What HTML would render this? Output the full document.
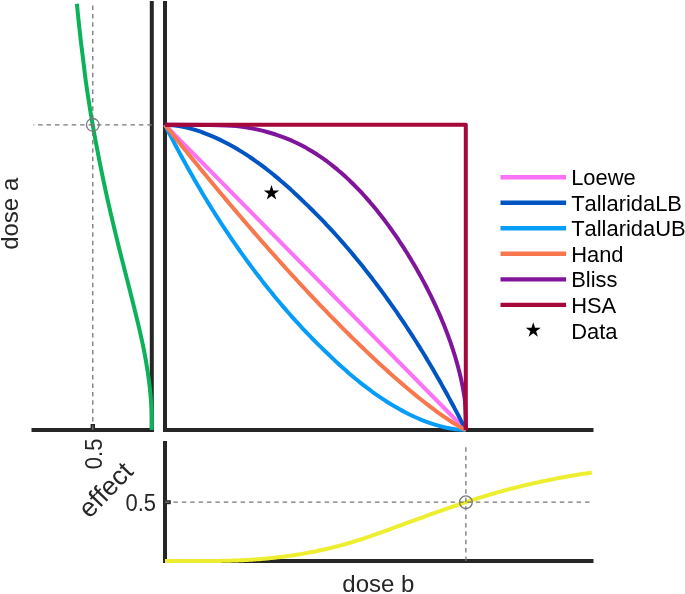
<!DOCTYPE html>
<html><head><meta charset="utf-8"><style>
html,body{margin:0;padding:0;background:#fff;}
body{width:685px;height:594px;overflow:hidden;}
svg{display:block;will-change:transform;}
text{font-family:"Liberation Sans",sans-serif;font-kerning:none;}
.lg{font-size:21.9px;fill:#000;}
.tk{font-size:22.8px;fill:#262626;}
.lb{font-size:24px;fill:#262626;}
</style></head><body>
<svg width="685" height="594" viewBox="0 0 685 594">
<g stroke="#262626" stroke-width="4" fill="none" stroke-linecap="butt">
<path d="M151.8,1 L151.8,432"/>
<path d="M31.5,430 L153.8,430"/>
<path d="M92.8,428 L92.8,424" stroke-width="4.4"/>
<path d="M165,1 L165,432"/>
<path d="M163,430 L593.5,430"/>
<path d="M165,441 L165,563"/>
<path d="M163,561 L593.5,561"/>
<path d="M167,502.2 L170.8,502.2"/>
</g>
<g fill="none" stroke-width="4" stroke-linejoin="round" stroke-linecap="butt">
<path d="M151.70,430.00 L151.74,428.57 L151.77,427.15 L151.79,425.72 L151.80,424.30 L151.81,422.87 L151.81,421.45 L151.81,420.02 L151.80,418.59 L151.78,417.17 L151.75,415.74 L151.72,414.32 L151.69,412.89 L151.64,411.47 L151.60,410.04 L151.52,408.61 L151.44,407.19 L151.35,405.76 L151.25,404.34 L151.15,402.91 L151.05,401.49 L150.94,400.06 L150.82,398.63 L150.70,397.21 L150.58,395.78 L150.45,394.36 L150.31,392.93 L150.17,391.51 L150.02,390.08 L149.87,388.65 L149.72,387.23 L149.56,385.80 L149.40,384.38 L149.23,382.95 L149.05,381.53 L148.88,380.10 L148.68,378.67 L148.48,377.25 L148.28,375.82 L148.07,374.40 L147.86,372.97 L147.64,371.54 L147.42,370.12 L147.20,368.69 L146.97,367.27 L146.74,365.84 L146.50,364.42 L146.26,362.99 L146.02,361.56 L145.78,360.14 L145.53,358.71 L145.27,357.29 L145.02,355.86 L144.76,354.44 L144.50,353.01 L144.23,351.58 L143.97,350.16 L143.67,348.73 L143.37,347.31 L143.07,345.88 L142.77,344.46 L142.46,343.03 L142.15,341.60 L141.84,340.18 L141.53,338.75 L141.21,337.33 L140.89,335.90 L140.57,334.48 L140.25,333.05 L139.92,331.62 L139.59,330.20 L139.26,328.77 L138.93,327.35 L138.60,325.92 L138.26,324.50 L137.92,323.07 L137.58,321.64 L137.24,320.22 L136.90,318.79 L136.56,317.37 L136.21,315.94 L135.86,314.52 L135.51,313.09 L135.16,311.66 L134.81,310.24 L134.46,308.81 L134.10,307.39 L133.75,305.96 L133.39,304.54 L133.03,303.11 L132.68,301.68 L132.32,300.26 L131.96,298.83 L131.60,297.41 L131.25,295.98 L130.89,294.56 L130.53,293.13 L130.17,291.70 L129.81,290.28 L129.45,288.85 L129.09,287.43 L128.73,286.00 L128.37,284.58 L128.01,283.15 L127.65,281.72 L127.28,280.30 L126.92,278.87 L126.56,277.45 L126.19,276.02 L125.83,274.59 L125.47,273.17 L125.10,271.74 L124.74,270.32 L124.37,268.89 L124.01,267.47 L123.64,266.04 L123.28,264.61 L122.91,263.19 L122.55,261.76 L122.19,260.34 L121.82,258.91 L121.46,257.49 L121.10,256.06 L120.73,254.63 L120.37,253.21 L120.01,251.78 L119.65,250.36 L119.29,248.93 L118.94,247.51 L118.59,246.08 L118.24,244.65 L117.89,243.23 L117.55,241.80 L117.20,240.38 L116.85,238.95 L116.51,237.53 L116.16,236.10 L115.81,234.67 L115.47,233.25 L115.13,231.82 L114.78,230.40 L114.44,228.97 L114.10,227.55 L113.76,226.12 L113.42,224.69 L113.08,223.27 L112.74,221.84 L112.40,220.42 L112.06,218.99 L111.73,217.57 L111.39,216.14 L111.06,214.71 L110.72,213.29 L110.39,211.86 L110.06,210.44 L109.73,209.01 L109.40,207.59 L109.07,206.16 L108.74,204.73 L108.41,203.31 L108.09,201.88 L107.76,200.46 L107.44,199.03 L107.13,197.61 L106.82,196.18 L106.51,194.75 L106.20,193.33 L105.89,191.90 L105.58,190.48 L105.27,189.05 L104.97,187.63 L104.66,186.20 L104.36,184.77 L104.06,183.35 L103.76,181.92 L103.46,180.50 L103.16,179.07 L102.86,177.65 L102.56,176.22 L102.27,174.79 L101.97,173.37 L101.68,171.94 L101.39,170.52 L101.10,169.09 L100.81,167.66 L100.52,166.24 L100.23,164.81 L99.95,163.39 L99.66,161.96 L99.38,160.54 L99.10,159.11 L98.82,157.68 L98.54,156.26 L98.26,154.83 L97.98,153.41 L97.70,151.98 L97.43,150.56 L97.15,149.13 L96.88,147.70 L96.61,146.28 L96.34,144.85 L96.07,143.43 L95.80,142.00 L95.54,140.58 L95.27,139.15 L95.01,137.72 L94.75,136.30 L94.49,134.87 L94.23,133.45 L93.97,132.02 L93.72,130.60 L93.46,129.17 L93.21,127.74 L92.96,126.32 L92.71,124.89 L92.46,123.47 L92.21,122.04 L91.96,120.62 L91.72,119.19 L91.47,117.76 L91.23,116.34 L90.99,114.91 L90.75,113.49 L90.51,112.06 L90.27,110.64 L90.03,109.21 L89.81,107.78 L89.58,106.36 L89.36,104.93 L89.13,103.51 L88.91,102.08 L88.69,100.66 L88.47,99.23 L88.25,97.80 L88.03,96.38 L87.82,94.95 L87.60,93.53 L87.39,92.10 L87.18,90.68 L86.96,89.25 L86.75,87.82 L86.54,86.40 L86.34,84.97 L86.13,83.55 L85.92,82.12 L85.72,80.70 L85.53,79.27 L85.35,77.84 L85.17,76.42 L84.99,74.99 L84.82,73.57 L84.64,72.14 L84.47,70.71 L84.30,69.29 L84.13,67.86 L83.96,66.44 L83.79,65.01 L83.62,63.59 L83.45,62.16 L83.29,60.73 L83.11,59.31 L82.93,57.88 L82.74,56.46 L82.56,55.03 L82.38,53.61 L82.20,52.18 L82.02,50.75 L81.84,49.33 L81.66,47.90 L81.49,46.48 L81.31,45.05 L81.14,43.63 L80.96,42.20 L80.79,40.77 L80.62,39.35 L80.46,37.92 L80.30,36.50 L80.14,35.07 L79.99,33.65 L79.83,32.22 L79.67,30.79 L79.52,29.37 L79.36,27.94 L79.21,26.52 L79.06,25.09 L78.91,23.67 L78.76,22.24 L78.61,20.81 L78.46,19.39 L78.31,17.96 L78.16,16.54 L78.02,15.11 L77.87,13.69 L77.73,12.26 L77.59,10.83 L77.45,9.41 L77.31,7.98 L77.16,6.56 L77.03,5.13 L76.89,3.71" stroke="#0BB258"/>
<path d="M165.00,561.00 L166.43,561.01 L167.85,561.02 L169.28,561.02 L170.71,561.03 L172.14,561.04 L173.56,561.04 L174.99,561.05 L176.42,561.06 L177.85,561.07 L179.27,561.07 L180.70,561.08 L182.13,561.08 L183.56,561.09 L184.98,561.09 L186.41,561.10 L187.84,561.10 L189.27,561.10 L190.69,561.11 L192.12,561.11 L193.55,561.11 L194.98,561.11 L196.40,561.11 L197.83,561.11 L199.26,561.10 L200.69,561.10 L202.11,561.09 L203.54,561.09 L204.97,561.08 L206.40,561.07 L207.82,561.06 L209.25,561.05 L210.68,561.04 L212.11,561.02 L213.53,561.00 L214.96,560.98 L216.39,560.96 L217.81,560.94 L219.24,560.92 L220.67,560.89 L222.10,560.86 L223.52,560.83 L224.95,560.80 L226.38,560.77 L227.81,560.73 L229.23,560.69 L230.66,560.65 L232.09,560.60 L233.52,560.56 L234.94,560.51 L236.37,560.45 L237.80,560.40 L239.23,560.34 L240.65,560.28 L242.08,560.21 L243.51,560.14 L244.94,560.07 L246.36,559.99 L247.79,559.91 L249.22,559.83 L250.65,559.74 L252.07,559.65 L253.50,559.56 L254.93,559.46 L256.36,559.36 L257.78,559.25 L259.21,559.15 L260.64,559.03 L262.06,558.92 L263.49,558.80 L264.92,558.67 L266.35,558.54 L267.77,558.41 L269.20,558.27 L270.63,558.13 L272.06,557.98 L273.48,557.83 L274.91,557.68 L276.34,557.52 L277.77,557.35 L279.19,557.19 L280.62,557.01 L282.05,556.83 L283.48,556.65 L284.90,556.46 L286.33,556.27 L287.76,556.07 L289.19,555.87 L290.61,555.67 L292.04,555.46 L293.47,555.25 L294.90,555.03 L296.32,554.81 L297.75,554.59 L299.18,554.35 L300.61,554.12 L302.03,553.88 L303.46,553.63 L304.89,553.38 L306.32,553.12 L307.74,552.86 L309.17,552.59 L310.60,552.32 L312.02,552.04 L313.45,551.76 L314.88,551.47 L316.31,551.18 L317.73,550.88 L319.16,550.58 L320.59,550.27 L322.02,549.96 L323.44,549.64 L324.87,549.32 L326.30,548.99 L327.73,548.66 L329.15,548.32 L330.58,547.98 L332.01,547.63 L333.44,547.28 L334.86,546.92 L336.29,546.56 L337.72,546.20 L339.15,545.83 L340.57,545.44 L342.00,545.05 L343.43,544.65 L344.86,544.24 L346.28,543.83 L347.71,543.42 L349.14,543.00 L350.57,542.58 L351.99,542.15 L353.42,541.72 L354.85,541.29 L356.27,540.85 L357.70,540.41 L359.13,539.96 L360.56,539.52 L361.98,539.06 L363.41,538.61 L364.84,538.15 L366.27,537.67 L367.69,537.18 L369.12,536.69 L370.55,536.19 L371.98,535.69 L373.40,535.19 L374.83,534.69 L376.26,534.19 L377.69,533.68 L379.11,533.17 L380.54,532.66 L381.97,532.14 L383.40,531.62 L384.82,531.10 L386.25,530.58 L387.68,530.06 L389.11,529.53 L390.53,529.01 L391.96,528.48 L393.39,527.95 L394.82,527.42 L396.24,526.89 L397.67,526.35 L399.10,525.82 L400.53,525.29 L401.95,524.78 L403.38,524.26 L404.81,523.75 L406.23,523.23 L407.66,522.72 L409.09,522.20 L410.52,521.68 L411.94,521.16 L413.37,520.65 L414.80,520.13 L416.23,519.61 L417.65,519.09 L419.08,518.58 L420.51,518.06 L421.94,517.54 L423.36,517.03 L424.79,516.51 L426.22,515.99 L427.65,515.48 L429.07,514.97 L430.50,514.45 L431.93,513.94 L433.36,513.43 L434.78,512.92 L436.21,512.41 L437.64,511.90 L439.07,511.40 L440.49,510.89 L441.92,510.39 L443.35,509.88 L444.78,509.38 L446.20,508.88 L447.63,508.38 L449.06,507.89 L450.48,507.39 L451.91,506.90 L453.34,506.41 L454.77,505.92 L456.19,505.43 L457.62,504.94 L459.05,504.46 L460.48,503.98 L461.90,503.50 L463.33,503.02 L464.76,502.55 L466.19,502.07 L467.61,501.61 L469.04,501.14 L470.47,500.68 L471.90,500.22 L473.32,499.76 L474.75,499.31 L476.18,498.85 L477.61,498.40 L479.03,497.95 L480.46,497.51 L481.89,497.07 L483.32,496.63 L484.74,496.19 L486.17,495.75 L487.60,495.32 L489.03,494.89 L490.45,494.46 L491.88,494.04 L493.31,493.62 L494.74,493.20 L496.16,492.78 L497.59,492.37 L499.02,491.96 L500.44,491.56 L501.87,491.17 L503.30,490.78 L504.73,490.40 L506.15,490.02 L507.58,489.64 L509.01,489.27 L510.44,488.90 L511.86,488.53 L513.29,488.16 L514.72,487.80 L516.15,487.44 L517.57,487.08 L519.00,486.73 L520.43,486.38 L521.86,486.03 L523.28,485.68 L524.71,485.34 L526.14,485.01 L527.57,484.67 L528.99,484.35 L530.42,484.02 L531.85,483.70 L533.28,483.38 L534.70,483.06 L536.13,482.74 L537.56,482.43 L538.99,482.12 L540.41,481.82 L541.84,481.51 L543.27,481.21 L544.69,480.91 L546.12,480.62 L547.55,480.32 L548.98,480.03 L550.40,479.75 L551.83,479.46 L553.26,479.17 L554.69,478.89 L556.11,478.61 L557.54,478.33 L558.97,478.05 L560.40,477.78 L561.82,477.51 L563.25,477.24 L564.68,476.98 L566.11,476.72 L567.53,476.47 L568.96,476.21 L570.39,475.97 L571.82,475.72 L573.24,475.48 L574.67,475.24 L576.10,475.00 L577.53,474.76 L578.95,474.53 L580.38,474.30 L581.81,474.07 L583.24,473.84 L584.66,473.62 L586.09,473.40 L587.52,473.18 L588.95,472.96 L590.37,472.75 L591.80,472.53" stroke="#EEEE30"/>
<path d="M165.0,124.85000000000002 L465.8,430.0" stroke="#FB72F6"/>
<path d="M465.80,430.00 L465.42,429.24 L465.03,428.47 L464.64,427.71 L464.26,426.94 L463.87,426.18 L463.48,425.41 L463.09,424.65 L462.70,423.88 L462.31,423.12 L461.92,422.35 L461.53,421.59 L461.14,420.82 L460.74,420.06 L460.35,419.29 L459.95,418.53 L459.56,417.76 L459.16,417.00 L458.76,416.23 L458.37,415.47 L457.97,414.70 L457.57,413.94 L457.17,413.17 L456.77,412.41 L456.37,411.65 L455.96,410.88 L455.56,410.12 L455.16,409.35 L454.75,408.59 L454.35,407.82 L453.94,407.06 L453.54,406.29 L453.13,405.53 L452.72,404.76 L452.31,404.00 L451.90,403.23 L451.49,402.47 L451.08,401.70 L450.67,400.94 L450.26,400.17 L449.84,399.41 L449.43,398.64 L449.01,397.88 L448.60,397.11 L448.18,396.35 L447.76,395.58 L447.34,394.82 L446.93,394.06 L446.51,393.29 L446.08,392.53 L445.66,391.76 L445.24,391.00 L444.82,390.23 L444.39,389.47 L443.97,388.70 L443.54,387.94 L443.12,387.17 L442.69,386.41 L442.26,385.64 L441.83,384.88 L441.40,384.11 L440.97,383.35 L440.54,382.58 L440.11,381.82 L439.68,381.05 L439.24,380.29 L438.81,379.52 L438.37,378.76 L437.94,377.99 L437.50,377.23 L437.06,376.46 L436.62,375.70 L436.18,374.94 L435.74,374.17 L435.30,373.41 L434.86,372.64 L434.42,371.88 L433.97,371.11 L433.53,370.35 L433.08,369.58 L432.64,368.82 L432.19,368.05 L431.74,367.29 L431.29,366.52 L430.84,365.76 L430.39,364.99 L429.94,364.23 L429.49,363.46 L429.03,362.70 L428.58,361.93 L428.12,361.17 L427.67,360.40 L427.21,359.64 L426.75,358.87 L426.29,358.11 L425.83,357.35 L425.37,356.58 L424.91,355.82 L424.45,355.05 L423.98,354.29 L423.52,353.52 L423.05,352.76 L422.58,351.99 L422.11,351.23 L421.64,350.46 L421.16,349.70 L420.69,348.93 L420.21,348.17 L419.74,347.40 L419.26,346.64 L418.78,345.87 L418.31,345.11 L417.83,344.34 L417.34,343.58 L416.86,342.81 L416.38,342.05 L415.90,341.28 L415.41,340.52 L414.92,339.76 L414.44,338.99 L413.95,338.23 L413.46,337.46 L412.97,336.70 L412.48,335.93 L411.98,335.17 L411.49,334.40 L411.00,333.64 L410.50,332.87 L410.00,332.11 L409.51,331.34 L409.01,330.58 L408.51,329.81 L408.00,329.05 L407.50,328.28 L407.00,327.52 L406.49,326.75 L405.99,325.99 L405.48,325.22 L404.97,324.46 L404.46,323.69 L403.95,322.93 L403.44,322.17 L402.93,321.40 L402.41,320.64 L401.90,319.87 L401.38,319.11 L400.86,318.34 L400.35,317.58 L399.83,316.81 L399.30,316.05 L398.78,315.28 L398.26,314.52 L397.73,313.75 L397.21,312.99 L396.68,312.22 L396.15,311.46 L395.62,310.69 L395.09,309.93 L394.56,309.16 L394.03,308.40 L393.49,307.63 L392.96,306.87 L392.42,306.10 L391.88,305.34 L391.34,304.57 L390.80,303.81 L390.26,303.05 L389.71,302.28 L389.17,301.52 L388.62,300.75 L388.08,299.99 L387.53,299.22 L386.98,298.46 L386.43,297.69 L385.87,296.93 L385.32,296.16 L384.76,295.40 L384.21,294.63 L383.65,293.87 L383.09,293.10 L382.53,292.34 L381.97,291.57 L381.40,290.81 L380.84,290.04 L380.27,289.28 L379.70,288.51 L379.14,287.75 L378.56,286.98 L377.99,286.22 L377.42,285.46 L376.84,284.69 L376.27,283.93 L375.69,283.16 L375.11,282.40 L374.53,281.63 L373.95,280.87 L373.36,280.10 L372.78,279.34 L372.19,278.57 L371.60,277.81 L371.01,277.04 L370.42,276.28 L369.83,275.51 L369.24,274.75 L368.65,273.98 L368.05,273.22 L367.45,272.45 L366.85,271.69 L366.25,270.92 L365.65,270.16 L365.05,269.39 L364.44,268.63 L363.83,267.87 L363.22,267.10 L362.61,266.34 L362.00,265.57 L361.39,264.81 L360.77,264.04 L360.16,263.28 L359.54,262.51 L358.92,261.75 L358.29,260.98 L357.67,260.22 L357.04,259.45 L356.42,258.69 L355.79,257.92 L355.16,257.16 L354.52,256.39 L353.89,255.63 L353.25,254.86 L352.61,254.10 L351.97,253.33 L351.33,252.57 L350.69,251.80 L350.04,251.04 L349.40,250.28 L348.75,249.51 L348.09,248.75 L347.44,247.98 L346.79,247.22 L346.13,246.45 L345.47,245.69 L344.81,244.92 L344.15,244.16 L343.48,243.39 L342.81,242.63 L342.14,241.86 L341.47,241.10 L340.80,240.33 L340.12,239.57 L339.45,238.80 L338.77,238.04 L338.09,237.27 L337.40,236.51 L336.72,235.74 L336.03,234.98 L335.34,234.21 L334.64,233.45 L333.95,232.68 L333.25,231.92 L332.55,231.16 L331.85,230.39 L331.15,229.63 L330.44,228.86 L329.73,228.10 L329.02,227.33 L328.30,226.57 L327.59,225.80 L326.87,225.04 L326.15,224.27 L325.42,223.51 L324.70,222.74 L323.97,221.98 L323.24,221.21 L322.50,220.45 L321.77,219.68 L321.03,218.92 L320.29,218.15 L319.54,217.39 L318.79,216.62 L318.04,215.86 L317.29,215.09 L316.53,214.33 L315.78,213.57 L315.01,212.80 L314.25,212.04 L313.48,211.27 L312.71,210.51 L311.94,209.74 L311.16,208.98 L310.38,208.21 L309.60,207.45 L308.81,206.68 L308.02,205.92 L307.23,205.15 L306.43,204.39 L305.63,203.62 L304.83,202.86 L304.03,202.09 L303.22,201.33 L302.43,200.56 L301.64,199.80 L300.85,199.03 L300.06,198.27 L299.27,197.50 L298.47,196.74 L297.67,195.98 L296.86,195.21 L296.05,194.45 L295.24,193.68 L294.42,192.92 L293.60,192.15 L292.77,191.39 L291.94,190.62 L291.11,189.86 L290.27,189.09 L289.43,188.33 L288.58,187.56 L287.73,186.80 L286.87,186.03 L286.01,185.27 L285.14,184.50 L284.27,183.74 L283.40,182.97 L282.51,182.21 L281.63,181.44 L280.74,180.68 L279.84,179.91 L278.94,179.15 L278.03,178.39 L277.12,177.62 L276.20,176.86 L275.27,176.09 L274.34,175.33 L273.40,174.56 L272.46,173.80 L271.51,173.03 L270.55,172.27 L269.59,171.50 L268.62,170.74 L267.64,169.97 L266.66,169.21 L265.67,168.44 L264.67,167.68 L263.66,166.91 L262.64,166.15 L261.62,165.38 L260.59,164.62 L259.55,163.85 L258.50,163.09 L257.44,162.32 L256.37,161.56 L255.29,160.79 L254.20,160.03 L253.10,159.27 L251.99,158.50 L250.87,157.74 L249.74,156.97 L248.60,156.21 L247.44,155.44 L246.27,154.68 L245.09,153.91 L243.89,153.15 L242.69,152.38 L241.46,151.62 L240.22,150.85 L238.97,150.09 L237.69,149.32 L236.40,148.56 L235.10,147.79 L233.77,147.03 L232.42,146.26 L231.05,145.50 L229.66,144.73 L228.25,143.97 L226.81,143.20 L225.34,142.44 L223.85,141.68 L222.33,140.91 L220.77,140.15 L219.18,139.38 L217.56,138.62 L215.89,137.85 L214.19,137.09 L212.43,136.32 L210.62,135.56 L208.76,134.79 L206.83,134.03 L204.83,133.26 L202.75,132.50 L200.58,131.73 L198.29,130.97 L195.88,130.20 L193.32,129.44 L190.55,128.67 L187.54,127.91 L184.17,127.14 L180.25,126.38 L175.33,125.61 L165.00,124.85" stroke="#0055C3"/>
<path d="M465.80,430.00 L455.47,429.24 L450.55,428.47 L446.63,427.71 L443.26,426.94 L440.25,426.18 L437.48,425.41 L434.92,424.65 L432.51,423.88 L430.22,423.12 L428.05,422.35 L425.97,421.59 L423.97,420.82 L422.04,420.06 L420.18,419.29 L418.37,418.53 L416.61,417.76 L414.91,417.00 L413.24,416.23 L411.62,415.47 L410.03,414.70 L408.47,413.94 L406.95,413.17 L405.46,412.41 L403.99,411.65 L402.55,410.88 L401.14,410.12 L399.75,409.35 L398.38,408.59 L397.03,407.82 L395.70,407.06 L394.40,406.29 L393.11,405.53 L391.83,404.76 L390.58,404.00 L389.34,403.23 L388.11,402.47 L386.91,401.70 L385.71,400.94 L384.53,400.17 L383.36,399.41 L382.20,398.64 L381.06,397.88 L379.93,397.11 L378.81,396.35 L377.70,395.58 L376.60,394.82 L375.51,394.06 L374.43,393.29 L373.36,392.53 L372.30,391.76 L371.25,391.00 L370.21,390.23 L369.18,389.47 L368.16,388.70 L367.14,387.94 L366.13,387.17 L365.13,386.41 L364.14,385.64 L363.16,384.88 L362.18,384.11 L361.21,383.35 L360.25,382.58 L359.29,381.82 L358.34,381.05 L357.40,380.29 L356.46,379.52 L355.53,378.76 L354.60,377.99 L353.68,377.23 L352.77,376.46 L351.86,375.70 L350.96,374.94 L350.06,374.17 L349.17,373.41 L348.29,372.64 L347.40,371.88 L346.53,371.11 L345.66,370.35 L344.79,369.58 L343.93,368.82 L343.07,368.05 L342.22,367.29 L341.37,366.52 L340.53,365.76 L339.69,364.99 L338.86,364.23 L338.03,363.46 L337.20,362.70 L336.38,361.93 L335.56,361.17 L334.75,360.40 L333.94,359.64 L333.13,358.87 L332.33,358.11 L331.53,357.35 L330.74,356.58 L329.95,355.82 L329.16,355.05 L328.37,354.29 L327.58,353.52 L326.77,352.76 L325.97,351.99 L325.17,351.23 L324.37,350.46 L323.57,349.70 L322.78,348.93 L321.99,348.17 L321.20,347.40 L320.42,346.64 L319.64,345.87 L318.86,345.11 L318.09,344.34 L317.32,343.58 L316.55,342.81 L315.79,342.05 L315.02,341.28 L314.27,340.52 L313.51,339.76 L312.76,338.99 L312.01,338.23 L311.26,337.46 L310.51,336.70 L309.77,335.93 L309.03,335.17 L308.30,334.40 L307.56,333.64 L306.83,332.87 L306.10,332.11 L305.38,331.34 L304.65,330.58 L303.93,329.81 L303.21,329.05 L302.50,328.28 L301.78,327.52 L301.07,326.75 L300.36,325.99 L299.65,325.22 L298.95,324.46 L298.25,323.69 L297.55,322.93 L296.85,322.17 L296.16,321.40 L295.46,320.64 L294.77,319.87 L294.08,319.11 L293.40,318.34 L292.71,317.58 L292.03,316.81 L291.35,316.05 L290.68,315.28 L290.00,314.52 L289.33,313.75 L288.66,312.99 L287.99,312.22 L287.32,311.46 L286.65,310.69 L285.99,309.93 L285.33,309.16 L284.67,308.40 L284.01,307.63 L283.36,306.87 L282.71,306.10 L282.05,305.34 L281.40,304.57 L280.76,303.81 L280.11,303.05 L279.47,302.28 L278.83,301.52 L278.19,300.75 L277.55,299.99 L276.91,299.22 L276.28,298.46 L275.64,297.69 L275.01,296.93 L274.38,296.16 L273.76,295.40 L273.13,294.63 L272.51,293.87 L271.88,293.10 L271.26,292.34 L270.64,291.57 L270.03,290.81 L269.41,290.04 L268.80,289.28 L268.19,288.51 L267.58,287.75 L266.97,286.98 L266.36,286.22 L265.75,285.46 L265.15,284.69 L264.55,283.93 L263.95,283.16 L263.35,282.40 L262.75,281.63 L262.15,280.87 L261.56,280.10 L260.97,279.34 L260.38,278.57 L259.79,277.81 L259.20,277.04 L258.61,276.28 L258.02,275.51 L257.44,274.75 L256.85,273.98 L256.27,273.22 L255.69,272.45 L255.11,271.69 L254.53,270.92 L253.96,270.16 L253.38,269.39 L252.81,268.63 L252.24,267.87 L251.66,267.10 L251.10,266.34 L250.53,265.57 L249.96,264.81 L249.40,264.04 L248.83,263.28 L248.27,262.51 L247.71,261.75 L247.15,260.98 L246.59,260.22 L246.04,259.45 L245.48,258.69 L244.93,257.92 L244.37,257.16 L243.82,256.39 L243.27,255.63 L242.72,254.86 L242.18,254.10 L241.63,253.33 L241.09,252.57 L240.54,251.80 L240.00,251.04 L239.46,250.28 L238.92,249.51 L238.38,248.75 L237.84,247.98 L237.31,247.22 L236.77,246.45 L236.24,245.69 L235.71,244.92 L235.18,244.16 L234.65,243.39 L234.12,242.63 L233.59,241.86 L233.07,241.10 L232.54,240.33 L232.02,239.57 L231.50,238.80 L230.97,238.04 L230.45,237.27 L229.94,236.51 L229.42,235.74 L228.90,234.98 L228.39,234.21 L227.87,233.45 L227.36,232.68 L226.85,231.92 L226.34,231.16 L225.83,230.39 L225.32,229.63 L224.81,228.86 L224.31,228.10 L223.80,227.33 L223.30,226.57 L222.80,225.80 L222.29,225.04 L221.79,224.27 L221.29,223.51 L220.80,222.74 L220.30,221.98 L219.80,221.21 L219.31,220.45 L218.82,219.68 L218.32,218.92 L217.83,218.15 L217.34,217.39 L216.85,216.62 L216.36,215.86 L215.88,215.09 L215.39,214.33 L214.90,213.57 L214.42,212.80 L213.94,212.04 L213.46,211.27 L212.97,210.51 L212.49,209.74 L212.02,208.98 L211.54,208.21 L211.06,207.45 L210.59,206.68 L210.11,205.92 L209.64,205.15 L209.16,204.39 L208.69,203.62 L208.22,202.86 L207.75,202.09 L207.28,201.33 L206.82,200.56 L206.35,199.80 L205.89,199.03 L205.43,198.27 L204.97,197.50 L204.51,196.74 L204.05,195.98 L203.59,195.21 L203.13,194.45 L202.68,193.68 L202.22,192.92 L201.77,192.15 L201.31,191.39 L200.86,190.62 L200.41,189.86 L199.96,189.09 L199.51,188.33 L199.06,187.56 L198.61,186.80 L198.16,186.03 L197.72,185.27 L197.27,184.50 L196.83,183.74 L196.38,182.97 L195.94,182.21 L195.50,181.44 L195.06,180.68 L194.62,179.91 L194.18,179.15 L193.74,178.39 L193.30,177.62 L192.86,176.86 L192.43,176.09 L191.99,175.33 L191.56,174.56 L191.12,173.80 L190.69,173.03 L190.26,172.27 L189.83,171.50 L189.40,170.74 L188.97,169.97 L188.54,169.21 L188.11,168.44 L187.68,167.68 L187.26,166.91 L186.83,166.15 L186.41,165.38 L185.98,164.62 L185.56,163.85 L185.14,163.09 L184.72,162.32 L184.29,161.56 L183.87,160.79 L183.46,160.03 L183.04,159.27 L182.62,158.50 L182.20,157.74 L181.79,156.97 L181.37,156.21 L180.96,155.44 L180.54,154.68 L180.13,153.91 L179.72,153.15 L179.31,152.38 L178.90,151.62 L178.49,150.85 L178.08,150.09 L177.67,149.32 L177.26,148.56 L176.86,147.79 L176.45,147.03 L176.05,146.26 L175.64,145.50 L175.24,144.73 L174.84,143.97 L174.43,143.20 L174.03,142.44 L173.63,141.68 L173.23,140.91 L172.83,140.15 L172.43,139.38 L172.04,138.62 L171.64,137.85 L171.24,137.09 L170.85,136.32 L170.45,135.56 L170.06,134.79 L169.66,134.03 L169.27,133.26 L168.88,132.50 L168.49,131.73 L168.10,130.97 L167.71,130.20 L167.32,129.44 L166.93,128.67 L166.54,127.91 L166.16,127.14 L165.77,126.38 L165.38,125.61 L165.00,124.85" stroke="#069DF9"/>
<path d="M165.00,124.85 L165.24,125.16 L167.28,127.71 L169.31,130.27 L171.36,132.83 L173.40,135.39 L175.45,137.95 L177.50,140.51 L179.56,143.07 L181.62,145.63 L183.68,148.19 L185.75,150.75 L187.82,153.31 L189.90,155.87 L191.98,158.42 L194.06,160.98 L196.15,163.54 L198.24,166.10 L200.33,168.66 L202.43,171.22 L204.54,173.78 L206.65,176.34 L208.76,178.90 L210.88,181.46 L213.00,184.02 L215.13,186.57 L217.26,189.13 L219.40,191.69 L221.54,194.25 L223.69,196.81 L225.84,199.37 L227.99,201.93 L230.15,204.49 L232.32,207.05 L234.49,209.61 L236.67,212.17 L238.85,214.73 L241.04,217.28 L243.23,219.84 L245.43,222.40 L247.63,224.96 L249.84,227.52 L252.06,230.08 L254.28,232.64 L256.51,235.20 L258.74,237.76 L260.98,240.32 L263.23,242.88 L265.48,245.44 L267.74,247.99 L270.01,250.55 L272.28,253.11 L274.56,255.67 L276.85,258.23 L279.14,260.79 L281.44,263.35 L283.75,265.91 L286.07,268.47 L288.39,271.03 L290.72,273.59 L293.06,276.15 L295.41,278.70 L297.76,281.26 L300.13,283.82 L302.50,286.38 L304.88,288.94 L307.27,291.50 L309.67,294.06 L312.08,296.62 L314.49,299.18 L316.92,301.74 L319.36,304.30 L321.81,306.86 L324.27,309.41 L326.74,311.97 L329.22,314.53 L331.71,317.09 L334.21,319.65 L336.73,322.21 L339.25,324.77 L341.79,327.33 L344.35,329.89 L346.91,332.45 L349.49,335.01 L352.09,337.57 L354.69,340.12 L357.32,342.68 L359.96,345.24 L362.61,347.80 L365.28,350.36 L367.97,352.92 L370.68,355.48 L373.40,358.04 L376.14,360.60 L378.91,363.16 L381.69,365.72 L384.50,368.28 L387.33,370.83 L390.18,373.39 L393.06,375.95 L395.96,378.51 L398.89,381.07 L401.85,383.63 L404.85,386.19 L407.87,388.75 L410.93,391.31 L414.03,393.87 L417.16,396.43 L420.34,398.98 L423.57,401.54 L426.85,404.10 L430.18,406.66 L433.58,409.22 L437.05,411.78 L440.60,414.34 L444.24,416.90 L448.00,419.46 L451.89,422.02 L455.96,424.58 L460.29,427.14 L465.12,429.69 L465.80,430.00" stroke="#F8774C"/>
<path d="M465.80,430.00 L465.80,429.49 L465.80,428.98 L465.80,428.47 L465.79,427.96 L465.79,427.45 L465.79,426.94 L465.78,426.43 L465.78,425.92 L465.77,425.41 L465.77,424.90 L465.76,424.39 L465.75,423.88 L465.75,423.37 L465.74,422.86 L465.73,422.35 L465.72,421.84 L465.71,421.33 L465.70,420.82 L465.69,420.31 L465.68,419.80 L465.67,419.29 L465.66,418.78 L465.64,418.27 L465.63,417.76 L465.62,417.25 L465.60,416.73 L465.59,416.22 L465.57,415.71 L465.56,415.20 L465.54,414.69 L465.52,414.17 L465.51,413.66 L465.49,413.15 L465.47,412.64 L465.45,412.12 L465.43,411.61 L465.41,411.10 L465.39,410.58 L465.37,410.07 L465.35,409.56 L465.33,409.04 L465.31,408.53 L465.29,408.01 L465.26,407.50 L465.24,406.98 L465.22,406.47 L465.19,405.95 L465.17,405.44 L465.14,404.92 L465.12,404.40 L465.09,403.89 L465.07,403.37 L465.04,402.85 L465.01,402.34 L464.98,401.82 L464.96,401.30 L464.93,400.78 L464.90,400.27 L464.84,399.75 L464.77,399.24 L464.69,398.73 L464.62,398.22 L464.54,397.70 L464.46,397.19 L464.38,396.68 L464.30,396.17 L464.22,395.66 L464.14,395.14 L464.06,394.63 L463.97,394.12 L463.89,393.61 L463.80,393.10 L463.71,392.58 L463.62,392.07 L463.53,391.56 L463.44,391.05 L463.35,390.53 L463.26,390.02 L463.17,389.51 L463.07,389.00 L462.98,388.49 L462.88,387.97 L462.78,387.46 L462.68,386.95 L462.58,386.44 L462.48,385.93 L462.38,385.42 L462.28,384.90 L462.17,384.39 L462.07,383.88 L461.96,383.37 L461.86,382.86 L461.75,382.34 L461.64,381.83 L461.53,381.32 L461.42,380.81 L461.31,380.30 L461.20,379.78 L461.08,379.27 L460.97,378.76 L460.85,378.25 L460.74,377.74 L460.62,377.23 L460.50,376.71 L460.38,376.20 L460.26,375.69 L460.14,375.18 L460.02,374.67 L459.90,374.16 L459.77,373.64 L459.65,373.13 L459.52,372.62 L459.40,372.11 L459.27,371.60 L459.14,371.08 L459.01,370.57 L458.88,370.06 L458.75,369.55 L458.62,369.04 L458.48,368.53 L458.35,368.01 L458.21,367.50 L458.08,366.99 L457.94,366.48 L457.80,365.97 L457.66,365.46 L457.52,364.95 L457.38,364.43 L457.24,363.92 L457.10,363.41 L456.95,362.90 L456.81,362.39 L456.67,361.88 L456.52,361.36 L456.37,360.85 L456.22,360.34 L456.08,359.83 L455.93,359.32 L455.77,358.81 L455.62,358.30 L455.47,357.78 L455.32,357.27 L455.16,356.76 L455.01,356.25 L454.85,355.74 L454.70,355.23 L454.54,354.71 L454.38,354.20 L454.22,353.69 L454.06,353.18 L453.90,352.67 L453.74,352.16 L453.57,351.65 L453.41,351.13 L453.25,350.62 L453.08,350.11 L452.91,349.60 L452.75,349.09 L452.58,348.58 L452.41,348.07 L452.24,347.55 L452.07,347.04 L451.90,346.53 L451.72,346.02 L451.55,345.51 L451.38,345.00 L451.20,344.49 L451.03,343.98 L450.85,343.46 L450.67,342.95 L450.49,342.44 L450.32,341.93 L450.14,341.42 L449.95,340.91 L449.77,340.40 L449.59,339.89 L449.41,339.37 L449.22,338.86 L449.04,338.35 L448.85,337.84 L448.67,337.33 L448.48,336.82 L448.29,336.31 L448.10,335.80 L447.91,335.28 L447.72,334.77 L447.53,334.26 L447.34,333.75 L447.14,333.24 L446.95,332.73 L446.75,332.22 L446.56,331.71 L446.36,331.19 L446.17,330.68 L445.97,330.17 L445.77,329.66 L445.57,329.15 L445.37,328.64 L445.17,328.13 L444.96,327.62 L444.76,327.11 L444.56,326.59 L444.35,326.08 L444.15,325.57 L443.94,325.06 L443.74,324.55 L443.53,324.04 L443.32,323.53 L443.11,323.02 L442.90,322.51 L442.69,321.99 L442.48,321.48 L442.26,320.97 L442.05,320.46 L441.84,319.95 L441.62,319.44 L441.41,318.93 L441.19,318.42 L440.97,317.91 L440.76,317.39 L440.54,316.88 L440.32,316.37 L440.10,315.86 L439.88,315.35 L439.65,314.84 L439.43,314.33 L439.21,313.82 L438.98,313.31 L438.76,312.80 L438.53,312.28 L438.31,311.77 L438.08,311.26 L437.85,310.75 L437.62,310.24 L437.39,309.73 L437.16,309.22 L436.93,308.71 L436.70,308.20 L436.47,307.69 L436.23,307.17 L436.00,306.66 L435.76,306.15 L435.53,305.64 L435.29,305.13 L435.05,304.62 L434.81,304.11 L434.58,303.60 L434.34,303.09 L434.10,302.58 L433.85,302.06 L433.61,301.55 L433.37,301.04 L433.13,300.53 L432.88,300.02 L432.64,299.51 L432.39,299.00 L432.14,298.49 L431.90,297.98 L431.65,297.47 L431.40,296.96 L431.15,296.44 L430.90,295.93 L430.65,295.42 L430.40,294.91 L430.14,294.40 L429.89,293.89 L429.63,293.38 L429.38,292.87 L429.12,292.36 L428.87,291.85 L428.61,291.34 L428.35,290.82 L428.09,290.31 L427.83,289.80 L427.57,289.29 L427.31,288.78 L427.05,288.27 L426.78,287.76 L426.52,287.25 L426.26,286.74 L425.99,286.23 L425.73,285.72 L425.46,285.20 L425.19,284.69 L424.92,284.18 L424.65,283.67 L424.38,283.16 L424.11,282.65 L423.84,282.14 L423.57,281.63 L423.30,281.12 L423.02,280.61 L422.75,280.10 L422.47,279.59 L422.20,279.07 L421.92,278.56 L421.64,278.05 L421.36,277.54 L421.08,277.03 L420.80,276.52 L420.52,276.01 L420.24,275.50 L419.96,274.99 L419.67,274.48 L419.39,273.97 L419.11,273.46 L418.82,272.94 L418.53,272.43 L418.25,271.92 L417.96,271.41 L417.67,270.90 L417.38,270.39 L417.09,269.88 L416.80,269.37 L416.51,268.86 L416.21,268.35 L415.92,267.84 L415.62,267.33 L415.33,266.81 L415.03,266.30 L414.73,265.79 L414.44,265.28 L414.14,264.77 L413.84,264.26 L413.54,263.75 L413.24,263.24 L412.93,262.73 L412.63,262.22 L412.33,261.71 L412.02,261.20 L411.72,260.68 L411.41,260.17 L411.10,259.66 L410.80,259.15 L410.49,258.64 L410.18,258.13 L409.87,257.62 L409.55,257.11 L409.24,256.60 L408.93,256.09 L408.61,255.58 L408.30,255.06 L407.98,254.55 L407.67,254.04 L407.35,253.53 L407.03,253.02 L406.71,252.51 L406.39,252.00 L406.07,251.49 L405.75,250.98 L405.42,250.47 L405.10,249.96 L404.77,249.45 L404.45,248.93 L404.12,248.42 L403.79,247.91 L403.47,247.40 L403.14,246.89 L402.81,246.38 L402.47,245.87 L402.14,245.36 L401.81,244.85 L401.47,244.34 L401.14,243.83 L400.80,243.31 L400.47,242.80 L400.13,242.29 L399.79,241.78 L399.45,241.27 L399.11,240.76 L398.77,240.25 L398.42,239.74 L398.08,239.23 L397.73,238.72 L397.39,238.20 L397.04,237.69 L396.69,237.18 L396.34,236.67 L395.99,236.16 L395.64,235.65 L395.29,235.14 L394.94,234.63 L394.58,234.12 L394.23,233.61 L393.87,233.10 L393.51,232.58 L393.15,232.07 L392.79,231.56 L392.43,231.05 L392.07,230.54 L391.71,230.03 L391.34,229.52 L390.98,229.01 L390.61,228.50 L390.24,227.99 L389.87,227.47 L389.50,226.96 L389.13,226.45 L388.76,225.94 L388.39,225.43 L388.01,224.92 L387.64,224.41 L387.26,223.90 L386.88,223.39 L386.50,222.87 L386.12,222.36 L385.74,221.85 L385.36,221.34 L384.97,220.83 L384.59,220.32 L384.20,219.81 L383.81,219.30 L383.42,218.79 L383.03,218.27 L382.64,217.76 L382.24,217.25 L381.85,216.74 L381.45,216.23 L381.06,215.72 L380.66,215.21 L380.26,214.70 L379.86,214.18 L379.45,213.67 L379.05,213.16 L378.64,212.65 L378.23,212.14 L377.83,211.63 L377.42,211.12 L377.00,210.61 L376.59,210.09 L376.18,209.58 L375.76,209.07 L375.34,208.56 L374.92,208.05 L374.50,207.54 L374.08,207.03 L373.66,206.52 L373.23,206.00 L372.80,205.49 L372.37,204.98 L371.94,204.47 L371.51,203.96 L371.08,203.45 L370.64,202.94 L370.20,202.42 L369.76,201.91 L369.32,201.40 L368.88,200.89 L368.44,200.38 L367.99,199.87 L367.54,199.36 L367.09,198.84 L366.64,198.33 L366.19,197.82 L365.73,197.31 L365.27,196.80 L364.82,196.29 L364.35,195.77 L363.89,195.26 L363.42,194.75 L362.96,194.24 L362.49,193.73 L362.02,193.22 L361.54,192.70 L361.07,192.19 L360.59,191.68 L360.11,191.17 L359.63,190.66 L359.14,190.15 L358.65,189.63 L358.16,189.12 L357.67,188.61 L357.18,188.10 L356.68,187.59 L356.18,187.08 L355.68,186.56 L355.18,186.05 L354.67,185.54 L354.16,185.03 L353.65,184.52 L353.13,184.00 L352.62,183.49 L352.10,182.98 L351.58,182.47 L351.05,181.96 L350.52,181.45 L349.99,180.93 L349.46,180.42 L348.92,179.91 L348.38,179.40 L347.84,178.89 L347.29,178.37 L346.74,177.86 L346.19,177.35 L345.63,176.84 L345.07,176.32 L344.51,175.81 L343.94,175.30 L343.37,174.79 L342.80,174.28 L342.22,173.76 L341.64,173.25 L341.06,172.74 L340.47,172.23 L339.88,171.71 L339.28,171.20 L338.68,170.69 L338.08,170.18 L337.47,169.66 L336.86,169.15 L336.24,168.64 L335.62,168.13 L334.99,167.62 L334.36,167.10 L333.73,166.59 L333.09,166.08 L332.44,165.57 L331.80,165.05 L331.14,164.54 L330.48,164.03 L329.82,163.51 L329.14,163.00 L328.47,162.49 L327.79,161.98 L327.10,161.46 L326.40,160.95 L325.70,160.44 L325.00,159.93 L324.29,159.41 L323.57,158.90 L322.84,158.39 L322.11,157.87 L321.37,157.36 L320.62,156.85 L319.87,156.34 L319.10,155.82 L318.33,155.31 L317.56,154.80 L316.77,154.28 L315.98,153.77 L315.17,153.26 L314.36,152.74 L313.54,152.23 L312.71,151.72 L311.86,151.20 L311.01,150.69 L310.15,150.18 L309.28,149.67 L308.39,149.15 L307.50,148.64 L306.59,148.13 L305.67,147.61 L304.73,147.10 L303.79,146.59 L302.82,146.07 L301.85,145.56 L300.86,145.05 L299.85,144.53 L298.83,144.02 L297.79,143.51 L296.73,142.99 L295.65,142.48 L294.56,141.96 L293.44,141.45 L292.30,140.94 L291.14,140.42 L289.96,139.91 L288.75,139.40 L287.51,138.88 L286.25,138.37 L284.95,137.86 L283.63,137.34 L282.27,136.83 L280.87,136.32 L279.44,135.80 L277.97,135.29 L276.45,134.78 L274.88,134.26 L273.27,133.75 L271.59,133.24 L269.86,132.72 L268.06,132.21 L266.19,131.70 L264.23,131.18 L262.18,130.67 L260.03,130.16 L257.76,129.64 L255.36,129.13 L252.80,128.62 L250.06,128.11 L247.10,127.59 L243.87,127.08 L240.30,126.57 L236.30,126.06 L231.67,125.67 L226.15,125.46 L219.15,125.26 L209.02,125.05 L165.00,124.85" stroke="#80149B"/>
<path d="M165.0,124.85000000000002 L465.8,124.85000000000002 L465.8,430.0" stroke="#A60839"/>
</g>
<g fill="none" stroke="#777777" stroke-width="1.3">
<path d="M151.8,124.85 L33.4,124.85" stroke-dasharray="4.5 3.9"/>
<path d="M92.8,430 L92.8,3" stroke-dasharray="4.5 3.9"/>
<path d="M165,502.2 L591.8,502.2" stroke-dasharray="4.5 3.9"/>
<path d="M465.9,561 L465.9,443.4" stroke-dasharray="4.5 3.9"/>
<circle cx="92.8" cy="124.85" r="6.35"/>
<circle cx="465.9" cy="502.2" r="6.35"/>
</g>
<path d="M271.50,184.90 L273.32,190.50 L279.20,190.50 L274.44,193.96 L276.26,199.55 L271.50,196.09 L266.74,199.55 L268.56,193.96 L263.80,190.50 L269.68,190.50Z" fill="#000"/>
<path d="M500.5,177.20 L566.1,177.20" stroke="#FB72F6" stroke-width="4.4"/>
<text x="571.2" y="185.30" class="lg">Loewe</text>
<path d="M500.5,202.74 L566.1,202.74" stroke="#0055C3" stroke-width="4.4"/>
<text x="571.2" y="210.84" class="lg">TallaridaLB</text>
<path d="M500.5,228.28 L566.1,228.28" stroke="#069DF9" stroke-width="4.4"/>
<text x="571.2" y="236.38" class="lg">TallaridaUB</text>
<path d="M500.5,253.82 L566.1,253.82" stroke="#F8774C" stroke-width="4.4"/>
<text x="571.2" y="261.92" class="lg">Hand</text>
<path d="M500.5,279.36 L566.1,279.36" stroke="#80149B" stroke-width="4.4"/>
<text x="571.2" y="287.46" class="lg">Bliss</text>
<path d="M500.5,304.90 L566.1,304.90" stroke="#A60839" stroke-width="4.4"/>
<text x="571.2" y="313.00" class="lg">HSA</text>
<path d="M533.25,322.34 L535.02,327.80 L540.76,327.80 L536.12,331.17 L537.89,336.63 L533.25,333.26 L528.61,336.63 L530.38,331.17 L525.74,327.80 L531.48,327.80Z" fill="#000"/>
<text x="571.2" y="338.54" class="lg">Data</text>
<text x="0" y="0" class="tk" transform="translate(101.7,453.9) rotate(-90) scale(0.965,1.03)" text-anchor="middle">0.5</text>
<text x="0" y="0" class="tk" transform="translate(140.8,511.1) scale(0.965,1.03)" text-anchor="middle">0.5</text>
<text class="lb" transform="translate(18.2,213.8) rotate(-90)" text-anchor="middle">dose a</text>
<text class="lb" x="378.4" y="591.9" text-anchor="middle">dose b</text>
<text class="lb" style="font-size:26.5px" transform="translate(106,490) rotate(-46)" text-anchor="middle" dy="8.5">effect</text>
</svg>
</body></html>
